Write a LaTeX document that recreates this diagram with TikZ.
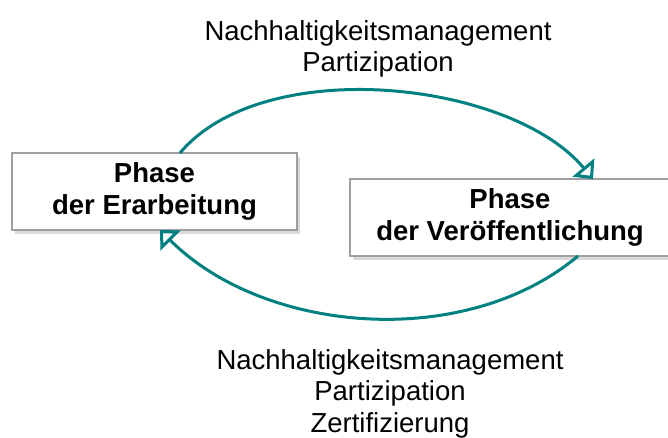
\documentclass[tikz,border=0pt]{standalone}
\usepackage{fontspec}
\setmainfont{Liberation Sans}
\usepackage{xcolor}
\usetikzlibrary{arrows.meta,positioning,shadows}
\definecolor{kreis}{RGB}{0,128,128}

\begin{document}
\begin{tikzpicture}[x=1pt,y=1pt,
box/.style={draw=gray!75,line width=1.2pt,fill=white,minimum width=285pt,minimum height=77pt,inner sep=0pt,outer sep=0pt,align=center,font=\fontsize{27.5}{31.5}\selectfont\bfseries,drop shadow={shadow xshift=2.5pt,shadow yshift=-3.5pt,opacity=.3}},
lbl/.style={align=center,inner sep=0pt,font=\fontsize{27.5}{31.5}\selectfont},arr/.style={-{Triangle[open,length=15pt,width=28pt,line width=3pt]},line width=3pt,draw=kreis}]
\useasboundingbox (0,0) rectangle (668,437);
\clip (0,0) rectangle (668,437);
\node[box] (erarb) at (154.5,245.5) {Phase\\der Erarbeitung};
\node[box,minimum width=320pt] (veroeff) at (510,219.5) {Phase\\der Veröffentlichung};
\node[lbl,anchor=north] (oben) at (378,417) {Nachhaltigkeitsmanagement\\Partizipation};
\node[lbl,anchor=north] (unten) at (390,88) {Nachhaltigkeitsmanagement\\Partizipation\\Zertifizierung};
\draw[arr] ([xshift=25.5pt]erarb.north) to[out=50,in=130,looseness=.8] ([xshift=83pt]veroeff.north);
\draw[arr] ([xshift=68pt]veroeff.south) to[out=220,in=315,looseness=.9] ([xshift=5.5pt]erarb.south);
\end{tikzpicture}
\end{document}
